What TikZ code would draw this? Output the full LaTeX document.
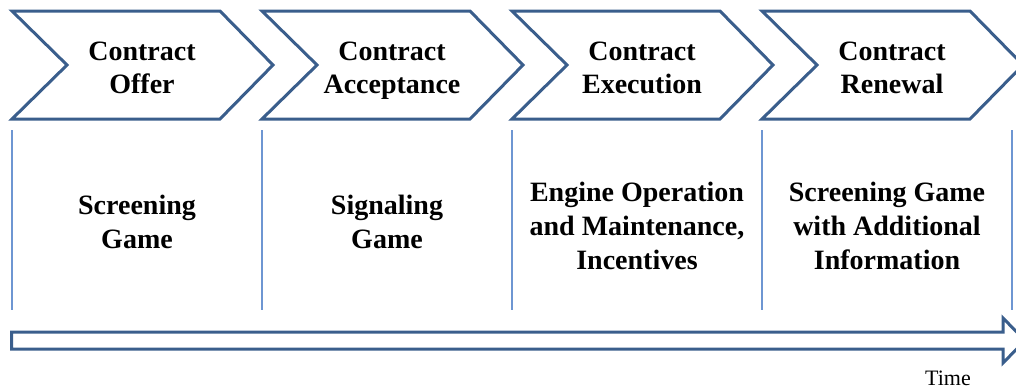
\documentclass[tikz,border=0pt]{standalone}
\usepackage{fontspec}
\setmainfont{Liberation Serif}
\begin{document}
\begin{tikzpicture}[x=1pt,y=-1pt,
  phase/.style={draw=phaseblue,line width=3pt,line join=miter,fill=white},
  divider/.style={draw=divblue,line width=1.5pt},
  headtext/.style={font=\fontsize{28}{33}\selectfont\bfseries,align=center,inner sep=0pt,anchor=north},
  bodytext/.style={font=\fontsize{28}{34}\selectfont\bfseries,align=center,inner sep=0pt},
  timearrow/.style={draw=phaseblue,line width=3pt,line join=miter,fill=white}]
\definecolor{phaseblue}{RGB}{58,94,140}
\definecolor{divblue}{RGB}{110,150,210}
\useasboundingbox (0,0) rectangle (1016,389);
\clip (0,0) rectangle (1016,389);

% dividers between the stages
\foreach \i/\x in {0/12,1/262,2/512,3/762,4/1012}
  \draw[divider] (\x,130) -- (\x,310) coordinate (d\i);

% stage chevrons
\foreach \i/\x in {1/12,2/262,3/512,4/762}
  \draw[phase] (\x,11) -- ++(208,0) -- ++(53,54) -- ++(-53,54) -- ++(-208,0) -- ++(55,-54) -- cycle;

\node[headtext] (h1) at (142,42) {Contract\\Offer};
\node[headtext] (h2) at (392,42) {Contract\\Acceptance};
\node[headtext] (h3) at (642,42) {Contract\\Execution};
\node[headtext] (h4) at (892,42) {Contract\\Renewal};

\node[bodytext] (b1) at (137,222) {Screening\\Game};
\node[bodytext] (b2) at (387,222) {Signaling\\Game};
\node[bodytext] (b3) at (637,226) {Engine Operation\\and Maintenance,\\Incentives};
\node[bodytext] (b4) at (887,226) {Screening Game\\with Additional\\Information};

% time axis
\draw[timearrow] (11.5,332) -- (1003,332) -- (1003,318) -- (1025,340.5) -- (1003,363) -- (1003,349) -- (11.5,349) -- cycle;
\node[font=\fontsize{22}{26}\selectfont,anchor=base,inner sep=0pt] (time) at (948,385) {Time};
\end{tikzpicture}
\end{document}
